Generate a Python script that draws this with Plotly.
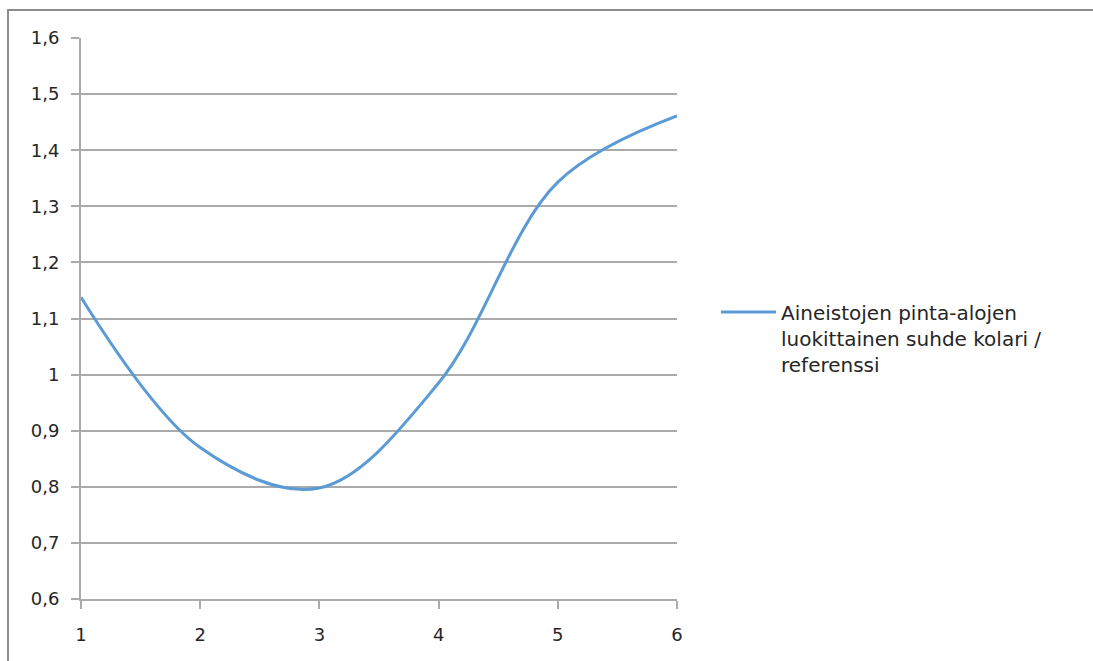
import plotly.graph_objects as go

x_values = [1, 2, 3, 4, 5, 6]
ratio_values = [1.138, 0.870, 0.798, 0.985, 1.343, 1.461]
series_name = "Aineistojen pinta-alojen<br>luokittainen suhde kolari /<br>referenssi"
y_tick_vals = [0.6, 0.7, 0.8, 0.9, 1.0, 1.1, 1.2, 1.3, 1.4, 1.5, 1.6]
y_tick_text = ["0,6", "0,7", "0,8", "0,9", "1", "1,1", "1,2", "1,3", "1,4", "1,5", "1,6"]
x_tick_vals = [1, 2, 3, 4, 5, 6]

W, H = 1093, 661
L, R, T, B = 81, 677, 38, 599
grid = "#ABABAB"
font_family = "DejaVu Sans, sans-serif"

fig = go.Figure()
fig.add_trace(go.Scatter(
    x=x_values, y=ratio_values, mode="lines", name=series_name,
    line=dict(color="#5B9BD5", width=3, shape="spline", smoothing=1.0),
))

pw, ph = R - L, B - T
fig.add_shape(type="rect", xref="paper", yref="paper",
              x0=(8 - L) / pw, x1=(W + 20 - L) / pw,
              y0=(B - (H + 20)) / ph, y1=(B - 10) / ph,
              line=dict(color="#8C8C8C", width=2), layer="below")

fig.update_layout(
    width=W, height=H,
    margin=dict(l=L, r=W - R, t=T, b=H - B, pad=0),
    paper_bgcolor="white", plot_bgcolor="white",
    font=dict(family=font_family, size=17, color="#262626"),
    showlegend=True,
    legend=dict(x=(716 - L) / pw, y=(B - 338) / ph, xanchor="left", yanchor="middle",
                font=dict(size=20, color="#262626"), itemwidth=55, valign="top",
                bgcolor="rgba(0,0,0,0)"),
    xaxis=dict(range=[1, 6], tickvals=x_tick_vals, showgrid=False, zeroline=False,
               showline=True, linecolor=grid, linewidth=2,
               ticks="outside", ticklen=8, tickwidth=2, tickcolor=grid,
               tickfont=dict(size=18), ticklabelstandoff=10),
    yaxis=dict(range=[0.6, 1.6], tickvals=y_tick_vals, ticktext=y_tick_text,
               showgrid=True, gridcolor=grid, gridwidth=2, zeroline=False,
               showline=True, linecolor=grid, linewidth=2,
               ticks="outside", ticklen=8, tickwidth=2, tickcolor=grid,
               tickfont=dict(size=18), ticklabelstandoff=8),
)

fig.write_html("out.html", config={"displayModeBar": False},
               post_script="document.body.style.margin='0';")
